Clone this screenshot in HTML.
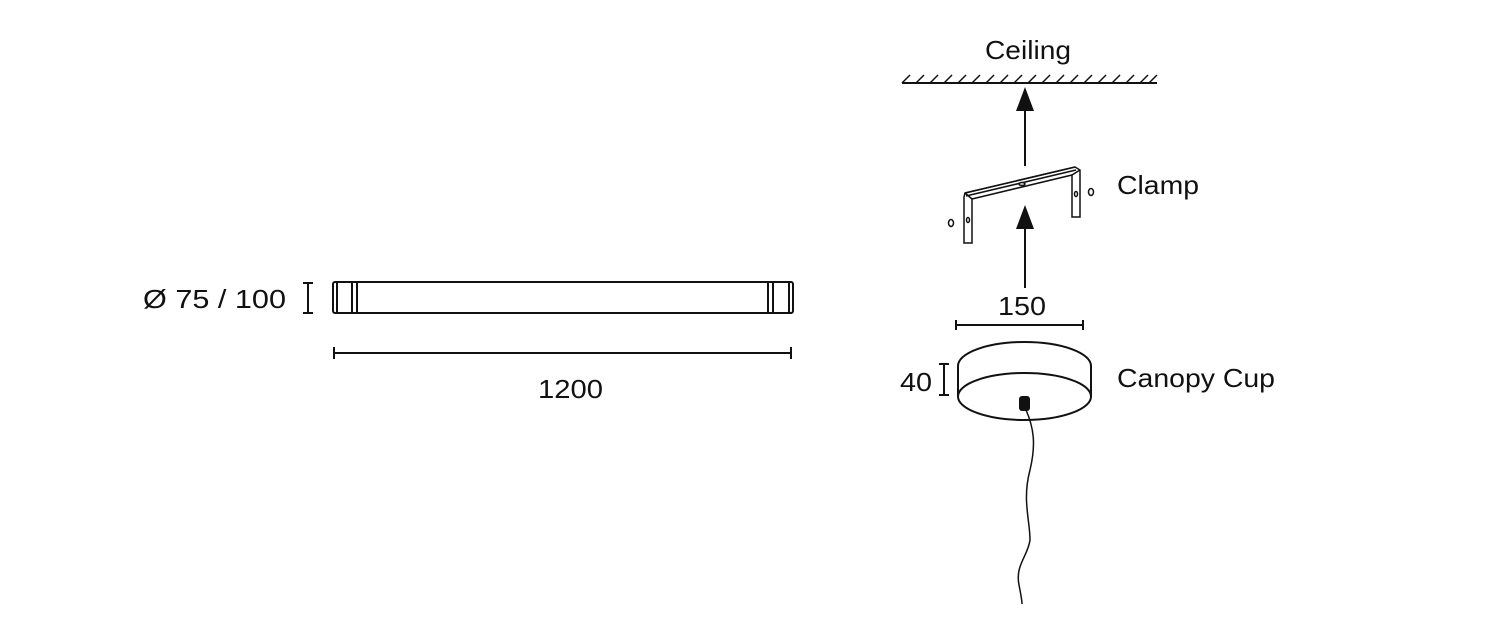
<!DOCTYPE html>
<html><head><meta charset="utf-8"><style>
html,body{margin:0;padding:0;background:#fff;}
svg{display:block;}
text{font-family:"Liberation Sans",sans-serif;fill:#111;}
</style></head><body>
<svg width="1500" height="630" viewBox="0 0 1500 630" xmlns="http://www.w3.org/2000/svg">
<g stroke="#111" fill="none" stroke-width="2">
<rect x="333" y="282" width="460" height="31" rx="2"/>
<line x1="337" y1="282" x2="337" y2="313"/>
<rect x="352" y="282" width="5" height="31"/>
<rect x="768" y="282" width="5" height="31"/>
<line x1="789" y1="282" x2="789" y2="313"/>
<line x1="334" y1="353" x2="791" y2="353"/>
<line x1="334" y1="347" x2="334" y2="359"/>
<line x1="791" y1="347" x2="791" y2="359"/>
<line x1="308" y1="283" x2="308" y2="313"/>
<line x1="303" y1="283" x2="313" y2="283"/>
<line x1="303" y1="313" x2="313" y2="313"/>
<line x1="902" y1="83" x2="1157" y2="83"/>
</g>
<g stroke="#111" stroke-width="1.5">
<line x1="902" y1="83" x2="910" y2="75"/><line x1="916" y1="83" x2="924" y2="75"/><line x1="930" y1="83" x2="938" y2="75"/><line x1="944" y1="83" x2="952" y2="75"/><line x1="958" y1="83" x2="966" y2="75"/><line x1="972" y1="83" x2="980" y2="75"/><line x1="986" y1="83" x2="994" y2="75"/><line x1="1000" y1="83" x2="1008" y2="75"/><line x1="1014" y1="83" x2="1022" y2="75"/><line x1="1028" y1="83" x2="1036" y2="75"/><line x1="1042" y1="83" x2="1050" y2="75"/><line x1="1056" y1="83" x2="1064" y2="75"/><line x1="1070" y1="83" x2="1078" y2="75"/><line x1="1084" y1="83" x2="1092" y2="75"/><line x1="1098" y1="83" x2="1106" y2="75"/><line x1="1112" y1="83" x2="1120" y2="75"/><line x1="1126" y1="83" x2="1134" y2="75"/><line x1="1140" y1="83" x2="1148" y2="75"/><line x1="1149" y1="83" x2="1157" y2="75"/>
</g>
<g stroke="#111" stroke-width="2">
<line x1="1025" y1="105" x2="1025" y2="166"/>
<line x1="1025" y1="225" x2="1025" y2="288"/>
</g>
<polygon points="1025,87 1016,111 1034,111" fill="#111"/>
<polygon points="1025,205 1016,229 1034,229" fill="#111"/>
<g stroke="#111" fill="#fff" stroke-width="1.5">
<polygon points="965,193 1075,167 1080,170 1080,217 1072,217 1072,175 972,199 972,243 964,243 964,197"/>
<line x1="965" y1="193" x2="1075" y2="167"/>
<line x1="966" y1="196" x2="1076" y2="170"/>
<line x1="972" y1="199" x2="965" y2="193"/>
<line x1="1072" y1="175" x2="1080" y2="170"/>
<ellipse cx="1022" cy="184" rx="3" ry="1.5"/>
<ellipse cx="968" cy="220" rx="1.5" ry="2.5"/>
<ellipse cx="1076" cy="194" rx="1.5" ry="2.5"/>
<ellipse cx="951" cy="223" rx="2.5" ry="3.5"/>
<ellipse cx="1091" cy="192" rx="2.5" ry="3.5"/>
</g>
<g stroke="#111" fill="none" stroke-width="2">
<line x1="956" y1="325" x2="1083" y2="325"/>
<line x1="956" y1="320" x2="956" y2="330"/>
<line x1="1083" y1="320" x2="1083" y2="330"/>
<line x1="944" y1="364" x2="944" y2="395"/>
<line x1="939" y1="364" x2="949" y2="364"/>
<line x1="939" y1="395" x2="949" y2="395"/>
<path d="M958,396 L958,366 A66.5,24 0 0 1 1091,366 L1091,396"/>
<ellipse cx="1024.5" cy="396.5" rx="66.5" ry="23.5"/>
<path d="M1026,410 C1034,428 1036,445 1030,470 C1022,500 1030,520 1030,540 C1028,556 1015,565 1019,585 C1021,595 1022,600 1022,604" stroke-width="1.5"/>
</g>
<rect x="1019" y="396" width="11" height="15" rx="3" fill="#111"/>
<text x="985" y="59" font-size="26" textLength="86" lengthAdjust="spacingAndGlyphs">Ceiling</text>
<text x="1117" y="194" font-size="26" textLength="82" lengthAdjust="spacingAndGlyphs">Clamp</text>
<text x="998" y="315" font-size="26" textLength="48" lengthAdjust="spacingAndGlyphs">150</text>
<text x="900" y="391" font-size="26" textLength="32" lengthAdjust="spacingAndGlyphs">40</text>
<text x="1117" y="387" font-size="26" textLength="158" lengthAdjust="spacingAndGlyphs">Canopy Cup</text>
<text x="143" y="308" font-size="26" textLength="143" lengthAdjust="spacingAndGlyphs">Ø 75 / 100</text>
<text x="538" y="398" font-size="26" textLength="65" lengthAdjust="spacingAndGlyphs">1200</text>
</svg>
</body></html>
